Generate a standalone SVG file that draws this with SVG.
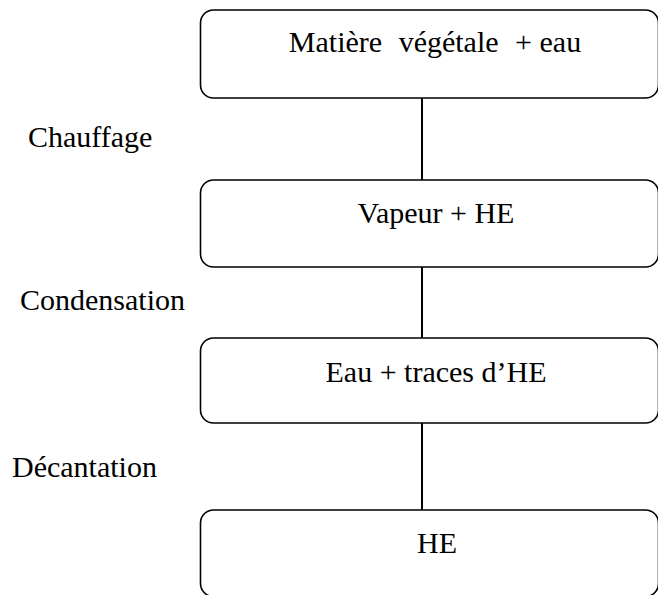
<svg xmlns="http://www.w3.org/2000/svg" width="658" height="595" viewBox="0 0 658 595">
<style>
.box{fill:#fff;stroke:#000;stroke-width:1.6}
.t{font-family:"Liberation Serif","Times New Roman",serif;font-size:30px;fill:#000}
.c{text-anchor:middle}
.ln{stroke:#000;stroke-width:2;fill:none}
</style>
<rect width="658" height="595" fill="#fff"/>
<g id="connectors">
<line class="ln" x1="422" y1="98" x2="422" y2="180"/>
<line class="ln" x1="422" y1="267" x2="422" y2="338"/>
<line class="ln" x1="422" y1="423" x2="422" y2="510"/>
</g>
<g id="n1"><rect class="box" x="200.5" y="10" width="458" height="88" rx="13"/><text class="t c" x="435" y="52"><tspan word-spacing="9">Matière végétale </tspan>+ eau</text></g>
<g id="n2"><rect class="box" x="200.5" y="180" width="458" height="87" rx="13"/><text class="t c" x="436" y="223">Vapeur + HE</text></g>
<g id="n3"><rect class="box" x="200.5" y="338" width="458" height="85" rx="13"/><text class="t c" x="436" y="382">Eau + traces d’HE</text></g>
<g id="n4"><rect class="box" x="200.5" y="510" width="458" height="86.5" rx="13"/><text class="t c" x="437" y="553">HE</text></g>
<g id="labels">
<text class="t" x="28" y="147">Chauffage</text>
<text class="t" x="20" y="310">Condensation</text>
<text class="t" x="12" y="477">Décantation</text>
</g>
</svg>
